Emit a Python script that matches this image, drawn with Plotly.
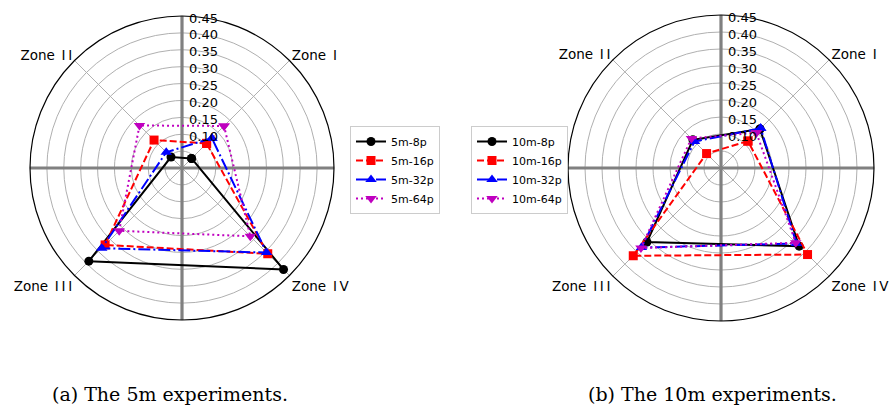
import plotly.graph_objects as go

# ---------------- data ----------------
zones = ["Zone\u2002I", "Zone\u2002I\u2009I", "Zone\u2002I\u2009I\u2009I", "Zone\u2002I\u2009V"]

series_5m_names = ["5m-8p", "5m-16p", "5m-32p", "5m-64p"]
r_5m_8p = [0.040, 0.046, 0.390, 0.425]
r_5m_16p = [0.103, 0.117, 0.322, 0.359]
r_5m_32p = [0.125, 0.066, 0.336, 0.354]
r_5m_64p = [0.176, 0.178, 0.263, 0.286]

series_10m_names = ["10m-8p", "10m-16p", "10m-32p", "10m-64p"]
r_10m_8p = [0.162, 0.117, 0.308, 0.325]
r_10m_16p = [0.112, 0.060, 0.365, 0.360]
r_10m_32p = [0.165, 0.110, 0.331, 0.314]
r_10m_64p = [0.147, 0.123, 0.333, 0.311]

radial_ticks = [0.05, 0.10, 0.15, 0.20, 0.25, 0.30, 0.35, 0.40, 0.45]
radial_tick_labels = ["", "0.10", "0.15", "0.20", "0.25", "0.30", "0.35", "0.40", "0.45"]
captions = ["(a) The 5m experiments.", "(b) The 10m experiments."]

# ---------------- styles ----------------
colors = ["#000000", "#ff0000", "#0000ff", "#bf00bf"]
dashes = ["solid", "7px,3px", "12px,3px,2px,3px", "2px,3px"]
symbols = ["circle", "square", "triangle-up", "triangle-down"]
msizes = [9, 9, 10, 10]

RMAX = radial_ticks[-1]
# zones placed at 45, 135, 225, 315 degrees
zone_theta = [45 + 90 * i for i in range(len(zones))]

fig = go.Figure()


def add_cross(polar):
    for a in (0, 90):
        fig.add_trace(go.Scatterpolar(
            r=[RMAX, 0, RMAX], theta=[a, a, a + 180], mode="lines",
            line=dict(color="#808080", width=3.2), showlegend=False,
            hoverinfo="skip", subplot=polar))


def add_series(polar, names, values, legend):
    for i, (nm, vals) in enumerate(zip(names, values)):
        fig.add_trace(go.Scatterpolar(
            r=list(vals) + [vals[0]], theta=zone_theta + [zone_theta[0]],
            mode="lines+markers", name=nm,
            line=dict(color=colors[i], width=2, dash=dashes[i]),
            marker=dict(symbol=symbols[i], size=msizes[i], color=colors[i]),
            subplot=polar, legend=legend))


add_cross("polar")
add_series("polar", series_5m_names, [r_5m_8p, r_5m_16p, r_5m_32p, r_5m_64p], "legend")
add_cross("polar2")
add_series("polar2", series_10m_names, [r_10m_8p, r_10m_16p, r_10m_32p, r_10m_64p], "legend2")

W, H = 891, 410
grid = "#b0b0b0"
font_main = "DejaVu Sans"


def polar_cfg(cx, cy, rad):
    return dict(
        domain=dict(x=[(cx - rad) / W, (cx + rad) / W],
                    y=[1 - (cy + rad) / H, 1 - (cy - rad) / H]),
        bgcolor="white",
        angularaxis=dict(
            rotation=0, direction="counterclockwise",
            tickmode="array",
            tickvals=[0, 45, 90, 135, 180, 225, 270, 315],
            ticktext=["", zones[0], "", zones[1], "", zones[2], "", zones[3]],
            showline=True, linecolor="black", linewidth=1.2,
            showgrid=True, gridcolor=grid, gridwidth=0.8,
            ticks="", tickfont=dict(size=13.5, color="black", family=font_main),
        ),
        radialaxis=dict(
            range=[0, RMAX], angle=90, side="clockwise",
            tickmode="array", tickvals=radial_ticks, ticktext=radial_tick_labels,
            showline=False, showgrid=True, gridcolor=grid, gridwidth=0.8,
            ticks="", tickfont=dict(size=13, color="black", family=font_main),
        ),
    )


legend_common = dict(
    bgcolor="white", bordercolor="#cccccc", borderwidth=1,
    font=dict(size=11, color="black", family=font_main),
    xanchor="left", yanchor="top", tracegroupgap=0,
)

fig.update_layout(
    width=W, height=H,
    margin=dict(l=0, r=0, t=0, b=0),
    paper_bgcolor="white", plot_bgcolor="white",
    font=dict(family=font_main, color="black"),
    polar=polar_cfg(182, 168, 152),
    polar2=polar_cfg(721, 168, 153),
    legend=dict(x=350 / W, y=1 - 126 / H, **legend_common),
    legend2=dict(x=471 / W, y=1 - 126 / H, **legend_common),
    annotations=[
        dict(text=captions[0], x=170 / W, y=1 - 394 / H, xref="paper", yref="paper",
             showarrow=False, xanchor="center", yanchor="middle",
             font=dict(family="DejaVu Serif", size=19, color="black")),
        dict(text=captions[1], x=712 / W, y=1 - 394 / H, xref="paper", yref="paper",
             showarrow=False, xanchor="center", yanchor="middle",
             font=dict(family="DejaVu Serif", size=19, color="black")),
    ],
)

fig.write_html("out.html")
